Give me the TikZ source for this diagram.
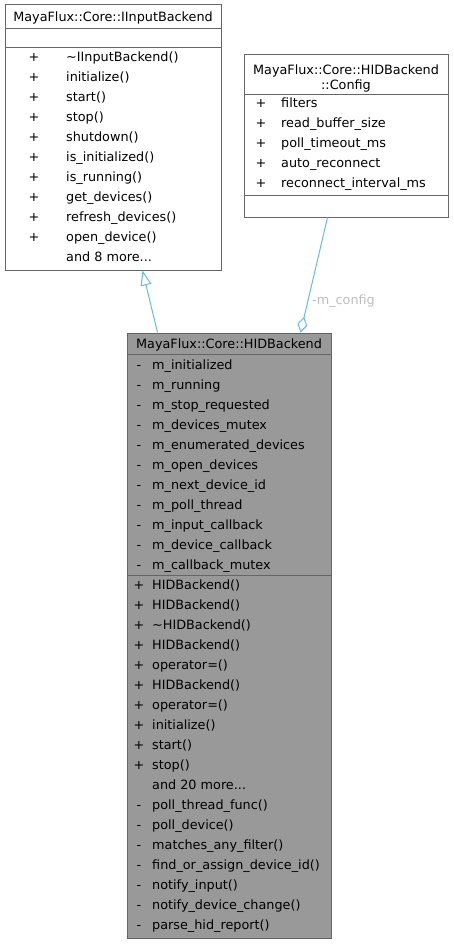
\documentclass[tikz,border=0pt]{standalone}
\usepackage{fontspec}
\setmainfont{DejaVu Sans}
\usetikzlibrary{arrows.meta}
\definecolor{edgeblue}{HTML}{63B8FF}
\definecolor{boxline}{HTML}{666666}
\definecolor{hidfill}{HTML}{999999}
\definecolor{lblgray}{HTML}{BEBEBE}
\begin{document}
\begin{tikzpicture}[x=1pt,y=-1pt, font=\fontsize{12.8}{15}\selectfont,
 umlbox/.style={draw=boxline, line width=1pt, fill=white, inner sep=0pt, rectangle},
 sepline/.style={draw=boxline, line width=1pt},
 rowtxt/.style={anchor=base west, inner sep=0pt},
 marktxt/.style={anchor=base, inner sep=0pt},
 titletxt/.style={anchor=base, inner sep=0pt},
 inherit/.style={draw=edgeblue, line width=1pt, -{Triangle[open,length=15pt,width=11pt,fill=white]}},
 aggr/.style={draw=edgeblue, line width=1pt, -{Diamond[open,length=16pt,width=10pt,fill=white]}}]
\useasboundingbox (0,0) rectangle (453,944);

% ---------- IInputBackend ----------
\node[umlbox, minimum width=216pt, minimum height=265pt] (ib) at (113,137.5) {};
\node[titletxt] (ibtitle) at (113,21.5) {MayaFlux::Core::IInputBackend};
\draw[sepline] ([yshift=-24pt]ib.north west) -- ([yshift=-24pt]ib.north east);
\draw[sepline] ([yshift=-43pt]ib.north west) -- ([yshift=-43pt]ib.north east);
\foreach \t [count=\i from 0] in {\textasciitilde IInputBackend(), initialize(), start(), stop(), shutdown(), is\_initialized(), is\_running(), get\_devices(), refresh\_devices(), open\_device()} {
  \node[marktxt] (ibm\i) at (34,61.5+20*\i) {+};
  \node[rowtxt] (ibr\i) at (66,61.5+20*\i) {\t};
}
\node[rowtxt] (ibmore) at (66,261.5) {and 8 more...};

% ---------- Config ----------
\node[umlbox, minimum width=204pt, minimum height=162pt] (cfg) at (346,136) {};
\node[titletxt] (cfgt1) at (346,74.5) {MayaFlux::Core::HIDBackend};
\node[titletxt] (cfgt2) at (346,89.5) {::Config};
\draw[sepline] ([yshift=-40pt]cfg.north west) -- ([yshift=-40pt]cfg.north east);
\draw[sepline] ([yshift=-141pt]cfg.north west) -- ([yshift=-141pt]cfg.north east);
\foreach \t [count=\i from 0] in {filters, read\_buffer\_size, poll\_timeout\_ms, auto\_reconnect, reconnect\_interval\_ms} {
  \node[marktxt] (cfgm\i) at (261,107.5+20*\i) {+};
  \node[rowtxt] (cfgr\i) at (281,107.5+20*\i) {\t};
}

% ---------- HIDBackend ----------
\node[umlbox, fill=hidfill, minimum width=204pt, minimum height=605pt] (hid) at (229,635.5) {};
\node[titletxt] (hidtitle) at (229,348.5) {MayaFlux::Core::HIDBackend};
\draw[sepline] ([yshift=-22pt]hid.north west) -- ([yshift=-22pt]hid.north east);
\draw[sepline] ([yshift=-243pt]hid.north west) -- ([yshift=-243pt]hid.north east);
\foreach \t [count=\i from 0] in {m\_initialized, m\_running, m\_stop\_requested, m\_devices\_mutex, m\_enumerated\_devices, m\_open\_devices, m\_next\_device\_id, m\_poll\_thread, m\_input\_callback, m\_device\_callback, m\_callback\_mutex} {
  \node[marktxt] (hida\i) at (139,369.5+20*\i) {-};
  \node[rowtxt] (hidar\i) at (152,369.5+20*\i) {\t};
}
\foreach \t [count=\i from 0] in {HIDBackend(), HIDBackend(), \textasciitilde HIDBackend(), HIDBackend(), operator=(), HIDBackend(), operator=(), initialize(), start(), stop()} {
  \node[marktxt] (hidp\i) at (139,589.5+20*\i) {+};
  \node[rowtxt] (hidpr\i) at (152,589.5+20*\i) {\t};
}
\node[rowtxt] (hidmore) at (152,789.5) {and 20 more...};
\foreach \t [count=\i from 0] in {poll\_thread\_func(), poll\_device(), matches\_any\_filter(), find\_or\_assign\_device\_id(), notify\_input(), notify\_device\_change(), parse\_hid\_report()} {
  \node[marktxt] (hidq\i) at (139,809.5+20*\i) {-};
  \node[rowtxt] (hidqr\i) at (152,809.5+20*\i) {\t};
}

% ---------- connectors ----------
\draw[inherit] ([xshift=31pt]hid.north west) -- ([xshift=138pt]ib.south west);
\draw[aggr] ([xshift=84pt]cfg.south west) -- ([xshift=174pt]hid.north west);
\node[text=lblgray, anchor=base west, inner sep=0pt] (lbl) at (312,304.5) {-m\_config};
\end{tikzpicture}
\end{document}
